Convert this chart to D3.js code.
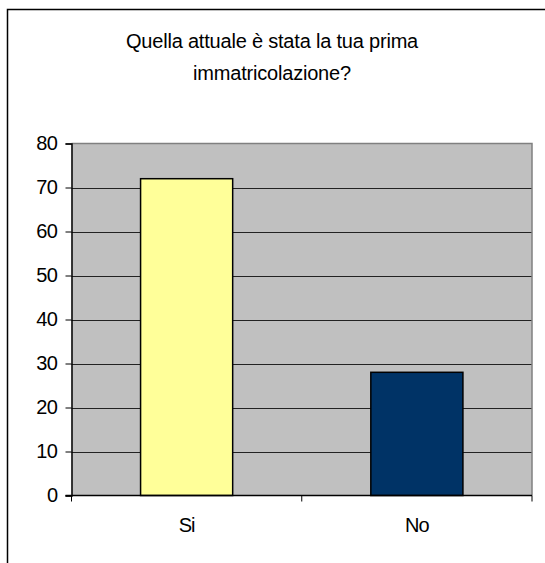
<!DOCTYPE html>
<html>
<head>
<meta charset="utf-8">
<script src="https://cdn.jsdelivr.net/npm/d3@7"></script>
<style>
  body { margin: 0; background: #fff; }
  svg text { font-family: "Liberation Sans", Arial, sans-serif; fill: #000; }
</style>
</head>
<body>
<svg width="545" height="563"></svg>
<script>
// data
const categories = ['Si', 'No'];
const values = [72, 28];
const barColors = ['#FFFF99', '#003366'];
const yTicks = [0, 10, 20, 30, 40, 50, 60, 70, 80];
const titleLines = ['Quella attuale è stata la tua prima', 'immatricolazione?'];

let svg = d3.select('svg'),
  width = +svg.attr('width'),
  height = +svg.attr('height');

const plot = { left: 71.5, right: 532, top: 143.5, bottom: 495.5 };

// outer chart border (cropped at right and bottom)
svg.append('path')
  .attr('d', 'M7.5,' + height + 'V9.5H' + width)
  .attr('fill', 'none')
  .attr('stroke', '#000')
  .attr('stroke-width', 1.5);

// title
svg.append('g')
  .selectAll('text')
  .data(titleLines)
  .enter()
  .append('text')
  .attr('x', 272)
  .attr('y', (d, i) => 48 + i * 32)
  .attr('text-anchor', 'middle')
  .attr('font-size', 20)
  .attr('letter-spacing', -0.2)
  .text(d => d);

const x = d3.scaleBand()
  .domain(categories)
  .range([plot.left, plot.right])
  .paddingInner(0.6)
  .paddingOuter(0.3);

const xOuter = d3.scaleBand()
  .domain(categories)
  .range([plot.left, plot.right]);

const y = d3.scaleLinear()
  .domain([0, 80])
  .range([plot.bottom, plot.top]);

// plot background
svg.append('rect')
  .attr('x', plot.left)
  .attr('y', plot.top)
  .attr('width', plot.right - plot.left)
  .attr('height', plot.bottom - plot.top)
  .attr('fill', '#C0C0C0');

// gridlines
svg.append('g')
  .selectAll('line')
  .data(yTicks.filter(d => d > 0 && d < 80))
  .enter()
  .append('line')
  .attr('x1', plot.left)
  .attr('x2', plot.right)
  .attr('y1', d => Math.round(y(d)) + 0.5)
  .attr('y2', d => Math.round(y(d)) + 0.5)
  .attr('stroke', '#222')
  .attr('stroke-width', 1.2);

// plot border top/right
svg.append('path')
  .attr('d', 'M' + plot.left + ',' + plot.top + 'H' + plot.right + 'V' + plot.bottom)
  .attr('fill', 'none')
  .attr('stroke', '#808080')
  .attr('stroke-width', 1.5);

// bars
svg.append('g')
  .selectAll('rect')
  .data(values)
  .enter()
  .append('rect')
  .attr('x', (d, i) => x(categories[i]))
  .attr('y', d => y(d))
  .attr('width', x.bandwidth())
  .attr('height', d => plot.bottom - y(d))
  .attr('fill', (d, i) => barColors[i])
  .attr('stroke', '#000')
  .attr('stroke-width', 1.5);

// y axis
const yAxis = svg.append('g')
  .attr('transform', 'translate(' + plot.left + ',0)')
  .call(d3.axisLeft(y).tickValues(yTicks).tickSize(6).tickPadding(8));
yAxis.select('.domain').attr('stroke', '#000').attr('stroke-width', 1.5);
yAxis.selectAll('.tick line').attr('stroke', '#000');
yAxis.selectAll('.tick text')
  .attr('font-size', 20)
  .attr('font-family', '"Liberation Sans", Arial, sans-serif')
  .attr('letter-spacing', -0.5);

// x axis
const xAxis = svg.append('g')
  .attr('transform', 'translate(0,' + plot.bottom + ')')
  .call(d3.axisBottom(xOuter).tickSize(0).tickPadding(22));
xAxis.select('.domain').remove();
xAxis.append('line')
  .attr('x1', plot.left - 6).attr('x2', plot.right)
  .attr('stroke', '#000').attr('stroke-width', 1.5);
xAxis.selectAll('.sep')
  .data([plot.left, (plot.left + plot.right) / 2, plot.right])
  .enter()
  .append('line')
  .attr('class', 'sep')
  .attr('x1', d => d).attr('x2', d => d)
  .attr('y1', 0).attr('y2', 6)
  .attr('stroke', '#000');
xAxis.selectAll('.tick text')
  .attr('font-size', 20)
  .attr('font-family', '"Liberation Sans", Arial, sans-serif')
  .attr('letter-spacing', -1);
</script>
</body>
</html>
